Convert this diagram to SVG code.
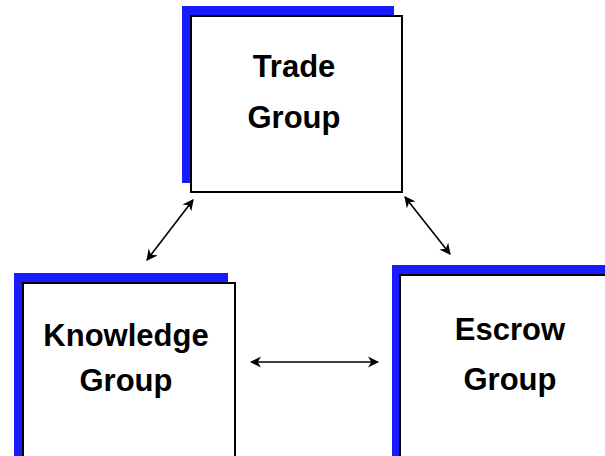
<svg xmlns="http://www.w3.org/2000/svg" width="605" height="456" viewBox="0 0 605 456">
  <style>
    .shadow { fill: #1a1aff; }
    .box { fill: #ffffff; stroke: #000000; stroke-width: 2; }
    .label { font-family: "Liberation Sans", Arial, sans-serif; font-weight: bold; font-size: 31px; fill: #000000; text-anchor: middle; }
    .link { stroke: #000000; stroke-width: 1.6; fill: none; marker-start: url(#head); marker-end: url(#head); }
  </style>
  <defs>
    <marker id="head" viewBox="0 0 10 10" refX="9" refY="5" markerWidth="7" markerHeight="7" orient="auto-start-reverse" markerUnits="strokeWidth">
      <path d="M0,0 L10,5 L0,10 L3,5 Z" fill="#000000"/>
    </marker>
  </defs>

  <rect width="605" height="456" fill="#ffffff"/>

  <g id="trade-group">
    <rect class="shadow" x="182" y="6" width="212" height="177"/>
    <rect class="box" x="191" y="16" width="211" height="176"/>
    <text class="label" x="294" y="77">Trade</text>
    <text class="label" x="294" y="128">Group</text>
  </g>

  <g id="knowledge-group">
    <rect class="shadow" x="14" y="273" width="214" height="200"/>
    <rect class="box" x="23" y="283" width="212" height="200"/>
    <text class="label" x="126" y="346">Knowledge</text>
    <text class="label" x="126" y="391">Group</text>
  </g>

  <g id="escrow-group">
    <rect class="shadow" x="392" y="265" width="230" height="210"/>
    <rect class="box" x="400" y="275" width="230" height="210"/>
    <text class="label" x="510" y="340">Escrow</text>
    <text class="label" x="510" y="390">Group</text>
  </g>

  <g id="connectors">
    <line class="link" x1="193" y1="200" x2="147" y2="260"/>
    <line class="link" x1="405" y1="197" x2="450" y2="254"/>
    <line class="link" x1="251" y1="362" x2="378" y2="362"/>
  </g>
</svg>
